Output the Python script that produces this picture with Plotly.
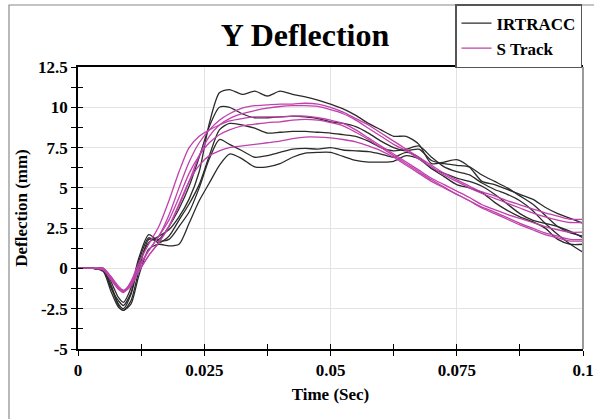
import plotly.graph_objects as go

time_s = [0, 0.003, 0.005, 0.0065, 0.008, 0.009, 0.0105, 0.012, 0.014, 0.016, 0.018, 0.02, 0.022, 0.024,
          0.026, 0.028, 0.03, 0.0325, 0.035, 0.0375, 0.04, 0.0425, 0.045, 0.0475, 0.05, 0.0525, 0.055,
          0.0575, 0.06, 0.0625, 0.065, 0.0675, 0.07, 0.0725, 0.075, 0.0775, 0.08, 0.0825, 0.085, 0.0875,
          0.09, 0.0925, 0.095, 0.0975, 0.1]

irtracc_1 = [0, 0, -0.1, -1.0, -2.2, -2.5, -1.6, 0.2, 1.6, 2.0, 2.4, 3.2, 4.3, 6.0, 9.0, 10.9, 11.1, 10.8,
             11.0, 10.7, 11.0, 10.8, 10.65, 10.45, 10.2, 9.9, 9.5, 9.0, 8.6, 8.2, 8.2, 7.7, 6.5, 6.6, 6.75,
             6.3, 5.4, 5.2, 4.9, 4.6, 4.3, 3.8, 3.4, 3.1, 2.8]
irtracc_2 = [0, 0, -0.2, -1.4, -2.4, -2.6, -2.0, -0.2, 1.8, 1.8, 2.6, 3.7, 5.1, 6.9, 8.8, 10.0, 10.0, 9.6,
             9.35, 9.35, 9.4, 9.45, 9.4, 9.3, 9.1, 9.0, 8.8, 8.4, 7.9, 7.5, 7.3, 7.4, 6.7, 6.5, 6.4, 6.3,
             5.8, 5.4, 5.0, 4.5, 4.0, 3.3, 2.6, 2.2, 2.0]
irtracc_3 = [0, 0, -0.1, -1.2, -2.0, -2.3, -1.5, 0.4, 1.9, 1.6, 2.0, 3.0, 4.0, 5.2, 7.0, 8.6, 9.0, 8.9,
             8.7, 8.4, 8.45, 8.5, 8.5, 8.45, 8.4, 8.3, 8.2, 7.9, 7.5, 7.3, 7.4, 7.6, 6.9, 6.3, 6.0, 5.8,
             5.3, 4.9, 4.6, 4.2, 3.6, 2.8, 2.1, 1.5, 1.0]
irtracc_4 = [0, 0, 0, -0.8, -1.8, -2.1, -1.2, 0.6, 2.1, 1.7, 1.8, 2.6, 3.5, 5.0, 6.8, 8.0, 7.7, 7.3,
             6.9, 7.0, 7.2, 7.4, 7.45, 7.4, 7.5, 7.35, 7.3, 7.25, 7.1, 6.9, 7.2, 6.9, 6.2, 5.9, 5.6, 5.4,
             5.1, 4.6, 4.0, 3.4, 3.0, 2.8, 2.6, 2.3, 1.9]
irtracc_5 = [0, 0, -0.1, -1.1, -2.3, -2.6, -2.2, -0.5, 1.2, 1.5, 1.4, 1.5, 2.8, 4.2, 5.3, 6.4, 7.1, 6.8,
             6.3, 6.3, 6.5, 6.9, 7.15, 7.2, 7.2, 6.95, 6.7, 6.6, 6.6, 6.65, 7.0, 6.8, 6.2, 5.7, 5.2, 5.0,
             4.7, 4.1, 3.6, 3.2, 2.9, 2.5, 1.8, 1.5, 1.5]

strack_1 = [0, 0, -0.05, -0.6, -1.2, -1.4, -0.9, 0.0, 1.1, 2.0, 3.3, 5.0, 6.6, 7.8, 8.6, 9.2, 9.6, 9.95,
            10.1, 10.15, 10.2, 10.2, 10.25, 10.2, 10.0, 9.7, 9.3, 8.9, 8.4, 7.9, 7.4, 6.9, 6.4, 5.9, 5.5,
            5.1, 4.75, 4.5, 4.2, 3.95, 3.7, 3.45, 3.25, 3.05, 3.05]
strack_2 = [0, 0, 0, -0.5, -1.1, -1.35, -1.0, -0.2, 0.8, 1.6, 2.6, 3.9, 5.4, 7.0, 8.2, 8.9, 9.3, 9.6,
            9.8, 9.95, 10.05, 10.1, 10.1, 10.05, 9.85, 9.6, 9.2, 8.7, 8.2, 7.7, 7.3, 6.8, 6.3, 5.8, 5.4,
            5.0, 4.65, 4.35, 4.05, 3.75, 3.45, 3.2, 3.0, 2.85, 2.85]
strack_3 = [0, 0, -0.1, -0.7, -1.3, -1.5, -0.8, 0.3, 1.5, 2.6, 4.2, 6.0, 7.5, 8.2, 8.6, 8.9, 9.15, 9.3,
            9.4, 9.4, 9.4, 9.45, 9.45, 9.35, 9.2, 9.0, 8.6, 8.1, 7.6, 7.1, 6.6, 6.1, 5.6, 5.2, 4.8, 4.4,
            3.95, 3.65, 3.35, 3.1, 2.85, 2.6, 2.4, 2.25, 2.25]
strack_4 = [0, 0, 0, -0.5, -1.2, -1.4, -0.9, 0.1, 1.1, 2.0, 3.0, 4.4, 5.9, 7.0, 7.8, 8.3, 8.6, 8.85,
            8.95, 9.05, 9.1, 9.2, 9.25, 9.2, 9.05, 8.85, 8.45, 8.0, 7.5, 7.0, 6.5, 6.0, 5.5, 5.05, 4.6,
            4.2, 3.8, 3.5, 3.15, 2.8, 2.5, 2.2, 2.0, 1.8, 1.8]
strack_5 = [0, 0, 0, -0.6, -1.2, -1.45, -1.1, -0.2, 0.8, 1.6, 2.6, 4.0, 5.4, 6.4, 7.0, 7.3, 7.5, 7.6,
            7.7, 7.8, 7.9, 8.05, 8.15, 8.15, 8.1, 8.0, 7.85, 7.6, 7.3, 6.9, 6.4, 5.9, 5.4, 5.0, 4.6, 4.2,
            3.75, 3.4, 3.05, 2.7, 2.4, 2.1, 1.9, 1.7, 1.7]

x_ticks = [0, 0.025, 0.05, 0.075, 0.1]
x_tick_labels = ["0", "0.025", "0.05", "0.075", "0.1"]
y_ticks = [-5, -2.5, 0, 2.5, 5, 7.5, 10, 12.5]
y_tick_labels = ["-5", "-2.5", "0", "2.5", "5", "7.5", "10", "12.5"]

BLACK = "#2b2b2b"
MAGENTA = "#c040ac"
SERIF = "Times New Roman, Liberation Serif, serif"

fig = go.Figure()
groups = [("IRTRACC", BLACK, [irtracc_1, irtracc_2, irtracc_3, irtracc_4, irtracc_5]),
          ("S Track", MAGENTA, [strack_1, strack_2, strack_3, strack_4, strack_5])]
for name, color, series in groups:
    for i, ys in enumerate(series):
        fig.add_trace(go.Scatter(
            x=time_s, y=ys, mode="lines", name=name, legendgroup=name,
            showlegend=(i == 0),
            line=dict(color=color, width=1.3, shape="spline", smoothing=0.7),
        ))

# invisible helper trace for the overlay axes (inside half of crossing ticks)
fig.add_trace(go.Scatter(x=[0, 0.1], y=[-5, 12.5], xaxis="x2", yaxis="y2", mode="markers",
                         marker=dict(opacity=0), showlegend=False, hoverinfo="skip"))

tickfont = dict(family=SERIF, size=17, color="black", weight="bold")
fig.update_layout(
    width=594, height=419,
    margin=dict(l=78, r=11, t=67, b=70, autoexpand=False),
    paper_bgcolor="white", plot_bgcolor="white",
    title=dict(text="Y Deflection", x=305 / 594, xref="container", xanchor="center",
               y=1 - 35 / 419, yref="container", yanchor="middle",
               font=dict(family=SERIF, size=32, color="black", weight="bold")),
    xaxis=dict(range=[0, 0.1], tickvals=x_ticks, ticktext=x_tick_labels, automargin=False,
               showgrid=True, gridcolor="#e3e3e3", gridwidth=1, zeroline=False,
               showline=True, linecolor="black", linewidth=1.5, mirror=True,
               ticks="outside", ticklen=5, tickwidth=1.2, tickcolor="black",
               minor=dict(dtick=0.0125, tick0=0, ticks="outside", ticklen=5, tickwidth=1, tickcolor="black",
                          showgrid=False),
               tickfont=tickfont,
               title=dict(text="Time (Sec)", standoff=9,
                          font=dict(family=SERIF, size=17, color="black", weight="bold"))),
    yaxis=dict(range=[-5, 12.5], tickvals=y_ticks, ticktext=y_tick_labels, automargin=False,
               showgrid=True, gridcolor="#e3e3e3", gridwidth=1, zeroline=False,
               showline=True, linecolor="black", linewidth=1.5, mirror=False,
               ticks="outside", ticklen=5, tickwidth=1.2, tickcolor="black",
               minor=dict(dtick=1.25, tick0=0, ticks="outside", ticklen=5, tickwidth=1, tickcolor="black",
                          showgrid=False),
               tickfont=tickfont,
               title=dict(text="Deflection (mm)", standoff=6,
                          font=dict(family=SERIF, size=17, color="black", weight="bold"))),
    xaxis2=dict(overlaying="x", matches="x", range=[0, 0.1], side="bottom", anchor="y2", automargin=False,
                tickvals=x_ticks, showticklabels=False, showgrid=False, zeroline=False,
                ticks="inside", ticklen=5, tickwidth=1.2, tickcolor="black",
                minor=dict(dtick=0.0125, tick0=0, ticks="inside", ticklen=5, tickwidth=1, tickcolor="black")),
    yaxis2=dict(overlaying="y", matches="y", range=[-5, 12.5], side="left", anchor="x2", automargin=False,
                tickvals=y_ticks, showticklabels=False, showgrid=False, zeroline=False,
                ticks="inside", ticklen=5, tickwidth=1.2, tickcolor="black",
                minor=dict(dtick=1.25, tick0=0, ticks="inside", ticklen=5, tickwidth=1, tickcolor="black")),
    legend=dict(x=(455 - 78) / 505, xanchor="left", y=(349 - 4) / 282, yanchor="top",
                bgcolor="white", bordercolor="#555555", borderwidth=1.5,
                font=dict(family=SERIF, size=17, color="black", weight="bold"),
                tracegroupgap=0, itemwidth=30, entrywidth=150, entrywidthmode="pixels"),
    shapes=[
        dict(type="rect", xref="paper", yref="paper",
             x0=(9 - 78) / 505, x1=(620 - 78) / 505, y0=(349 - 440) / 282, y1=(349 - 5) / 282,
             line=dict(color="#8a8a8a", width=1.2), layer="below"),
        dict(type="line", xref="paper", yref="paper", x0=1, x1=1, y0=0, y1=1,
             line=dict(color="#9a9a9a", width=2)),
    ],
)

fig.write_html("out.html")
